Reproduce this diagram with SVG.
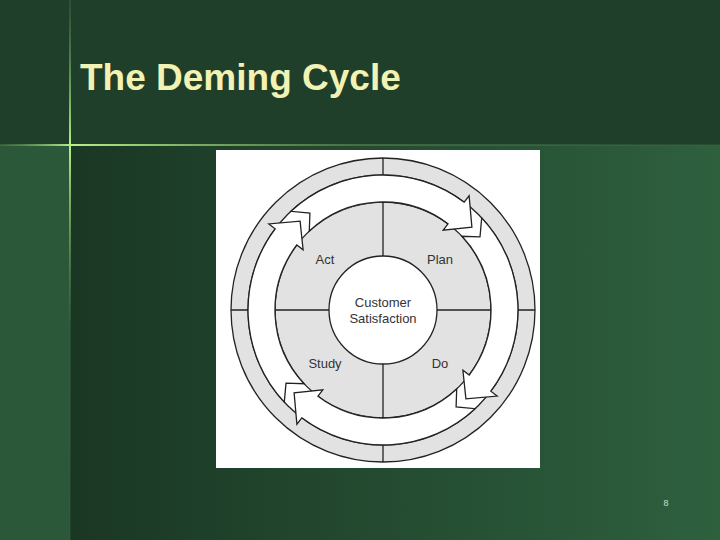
<svg xmlns="http://www.w3.org/2000/svg" xmlns:xlink="http://www.w3.org/1999/xlink" width="720" height="540" viewBox="0 0 720 540">
<defs>
<linearGradient id="bg" x1="0" y1="0" x2="1" y2="0"><stop offset="0" stop-color="#1a3724"/><stop offset="1" stop-color="#2e603e"/></linearGradient>
<linearGradient id="hl" x1="0" y1="0" x2="1" y2="0"><stop offset="0" stop-color="#6a9a5a" stop-opacity="0.3"/><stop offset="0.1" stop-color="#b8f088"/><stop offset="0.5" stop-color="#5a8a50" stop-opacity="0.6"/><stop offset="1" stop-color="#3a6a45" stop-opacity="0.3"/></linearGradient>
<linearGradient id="vl" x1="0" y1="0" x2="0" y2="1"><stop offset="0" stop-color="#3a6a45" stop-opacity="0.4"/><stop offset="0.27" stop-color="#b8f088"/><stop offset="0.6" stop-color="#3a6a45" stop-opacity="0.4"/><stop offset="1" stop-color="#3a6a45" stop-opacity="0.2"/></linearGradient>
<path id="arr" d="M290.9,211.3 A135,135 0 0 1 464.2,202.2 L469.1,195.8 L471.9,227.1 L443.2,230.1 L448.0,223.8 A108,108 0 0 0 309.3,231.0 L309.9,213.0 Z"/>
</defs>
<style>
.ln{stroke:#222;stroke-width:1.3;fill:none}
.lbl{font-family:"Liberation Sans",Arial,sans-serif;font-size:13px;fill:#333;text-anchor:middle}
.ar{fill:#fff;stroke:#222;stroke-width:1.3}
</style>
<rect width="720" height="540" fill="#1f3f2a"/>
<rect x="70" y="145" width="650" height="395" fill="url(#bg)"/>
<rect x="0" y="145" width="70" height="395" fill="#2a5838"/>
<rect x="0" y="144" width="720" height="2" fill="url(#hl)"/>
<rect x="69" y="0" width="2" height="540" fill="url(#vl)"/>
<text x="80" y="90" font-family="Liberation Sans,Arial,sans-serif" font-weight="bold" font-size="37" fill="#f2f2b4">The Deming Cycle</text>
<g id="diagram">
<rect x="216" y="150" width="324" height="318" fill="#fff"/>
<circle cx="383" cy="310" r="152" fill="#e2e2e2" class="ln" style="fill:#e2e2e2"/>
<circle cx="383" cy="310" r="135" fill="#fff" stroke="#222" stroke-width="1.3"/>
<circle cx="383" cy="310" r="108" fill="#e2e2e2" stroke="#222" stroke-width="1.3"/>
<path class="ln" d="M383,158V175M383,445V462M231,310H248M518,310H535M383,202V418M275,310H491"/>
<circle cx="383" cy="310" r="54" fill="#fff" stroke="#222" stroke-width="1.3"/>
</g>
<g id="connectors">
<use xlink:href="#arr" class="ar"/>
<use xlink:href="#arr" class="ar" transform="rotate(90 383 310)"/>
<use xlink:href="#arr" class="ar" transform="rotate(180 383 310)"/>
<use xlink:href="#arr" class="ar" transform="rotate(270 383 310)"/>
</g>
<g id="act"><text class="lbl" x="325" y="264">Act</text></g>
<g id="plan"><text class="lbl" x="440" y="264">Plan</text></g>
<g id="study"><text class="lbl" x="325" y="368">Study</text></g>
<g id="do"><text class="lbl" x="440" y="368">Do</text></g>
<g id="center"><text class="lbl" x="383" y="307">Customer</text><text class="lbl" x="383" y="323">Satisfaction</text></g>
<text x="666" y="506" font-family="Liberation Sans,Arial,sans-serif" font-size="9" fill="#cfe0c8" text-anchor="middle">8</text>
</svg>
